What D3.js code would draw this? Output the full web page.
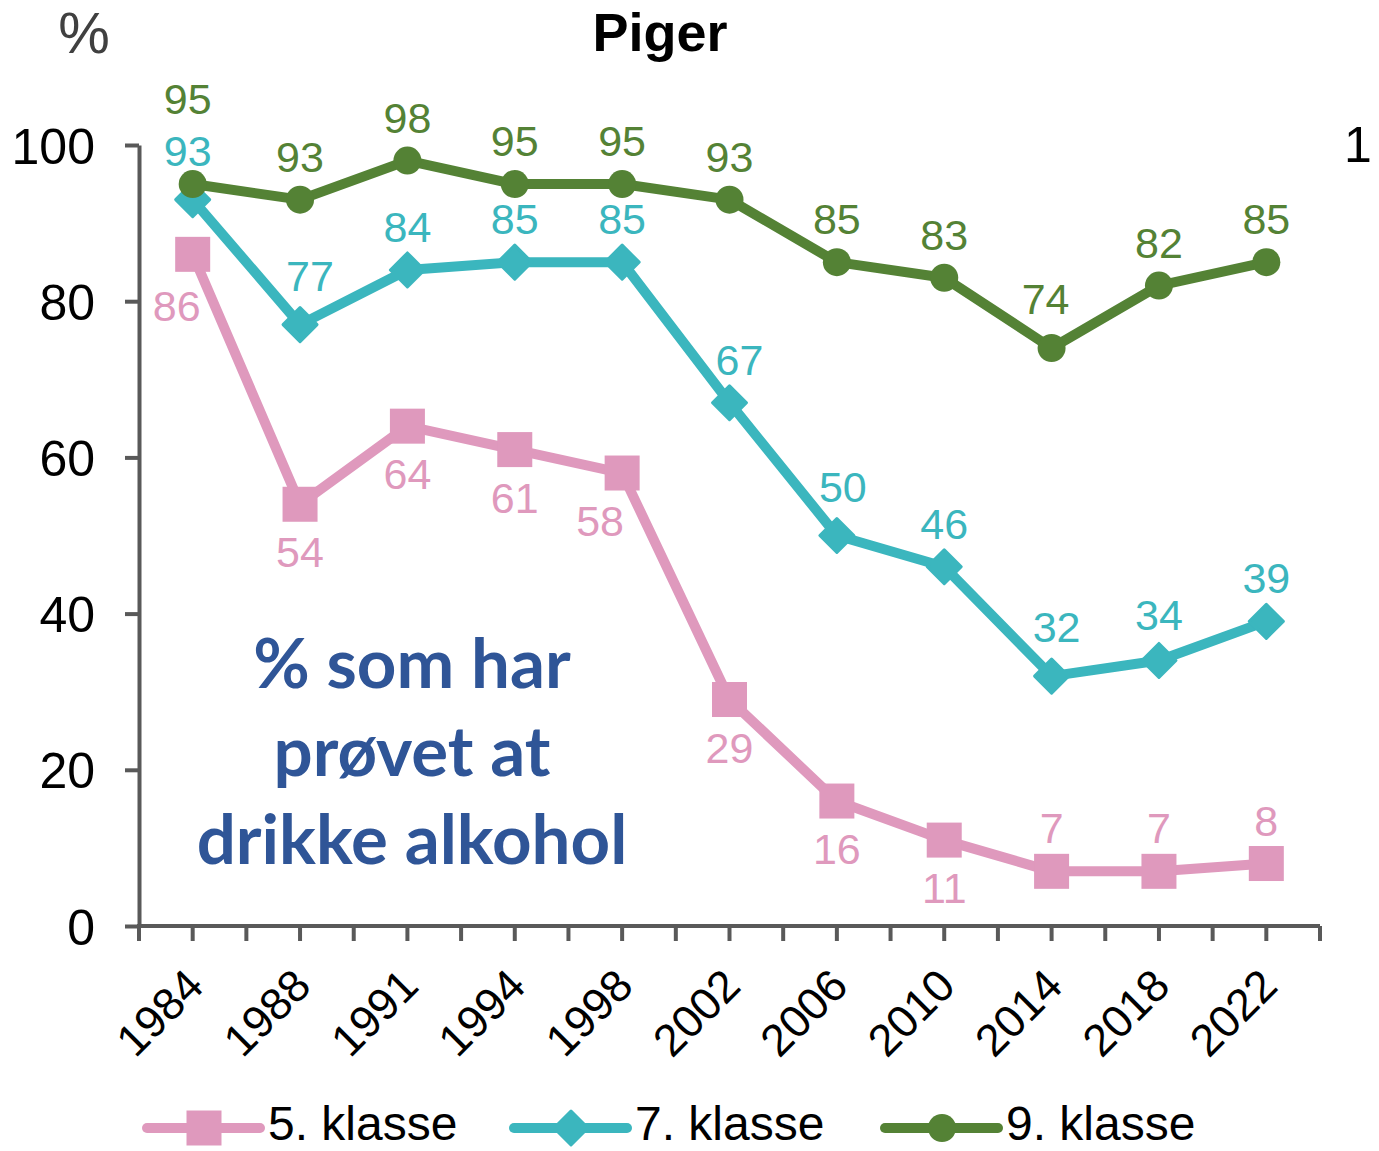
<!DOCTYPE html>
<html lang="da">
<head>
  <meta charset="UTF-8">
  <title>Piger – % som har prøvet at drikke alkohol</title>
  <style>
    body { margin: 0; background: #fff; }
    svg text { font-family: "Liberation Sans", Arial, sans-serif; }
    .axis path, .axis line { stroke: #595959; stroke-width: 4; }
    .tick text { fill: #000; }
    .lbl { font-size: 43px; }
    .note { font-family: Lato, "Open Sans", sans-serif !important; font-weight: bold; fill: #2F5597; font-size: 69px; }
  </style>
</head>
<body>
  <svg id="chart" width="1379" height="1151"></svg>

  <script src="https://d3js.org/d3.v7.min.js"></script>
  <script>
    // years (categories)
    const YEARS = ["1984","1988","1991","1994","1998","2002","2006","2010","2014","2018","2022"];
    // series values, %
    const KL5 = [86, 54, 64, 61, 58, 29, 16, 11, 7, 7, 8];
    const KL7 = [93, 77, 84, 85, 85, 67, 50, 46, 32, 34, 39];
    const KL9 = [95, 93, 98, 95, 95, 93, 85, 83, 74, 82, 85];
    const Y_TICKS = [0, 20, 40, 60, 80, 100];
    const SERIES = [
      {name:"5. klasse", vals:KL5, color:"#DF99BD", mark:"square",  pos:["b","b","b","b","b","b","b","b","a","a","a"]},
      {name:"7. klasse", vals:KL7, color:"#3BB6BE", mark:"diamond", pos:"a"},
      {name:"9. klasse", vals:KL9, color:"#548235", mark:"circle",  pos:"a"}
    ];

    const svg = d3.select('#chart');
    const x0 = 139, x1 = 1320, yTop = 145, yBot = 926;

    const x = d3.scalePoint().domain(YEARS).range([x0, x1]).padding(0.5);
    const y = d3.scaleLinear().domain([0, 100]).range([yBot, yTop]);

    // header texts
    svg.append("text").attr("x", 84).attr("y", 53).attr("text-anchor","middle")
      .attr("font-size", 58).attr("fill", "#404040").text("%");
    svg.append("text").attr("x", 660).attr("y", 51).attr("text-anchor","middle")
      .attr("font-size", 54).attr("font-weight","bold").text("Piger");
    // edge of the neighbouring chart
    svg.append("text").attr("x", 1344).attr("y", 162)
      .attr("font-size", 50).text("1");

    // y axis
    const gy = svg.append("g").attr("class","axis").attr("transform",`translate(${x0},0)`)
      .call(d3.axisLeft(y).tickValues(Y_TICKS).tickSize(14).tickPadding(30).tickSizeOuter(0));
    gy.selectAll("text").attr("font-size", 50).attr("dy","0.36em");

    // x axis: ticks on every half step
    const step = x.step();
    const halfTicks = d3.range(0, YEARS.length * 2 + 1).map(i => x0 + i * step / 2);
    const gx = svg.append("g").attr("class","axis");
    gx.append("line").attr("x1", x0 - 2).attr("x2", x1).attr("y1", yBot).attr("y2", yBot);
    gx.selectAll("line.t").data(halfTicks).join("line").attr("class","t")
      .attr("x1", d => d).attr("x2", d => d).attr("y1", yBot).attr("y2", yBot + 15);
    svg.append("g").selectAll("text").data(YEARS).join("text")
      .attr("transform", d => `translate(${x(d) - 9},${yBot + 40}) rotate(-45)`)
      .attr("text-anchor","end").attr("font-size", 45).attr("dy","0.7em")
      .text(d => d);

    // annotation
    const note = svg.append("text").attr("class","note").attr("text-anchor","middle");
    ["% som har", "prøvet at", "drikke alkohol"].forEach((t, i) => {
      note.append("tspan").attr("x", 412).attr("y", 688 + i * 88).text(t);
    });

    // markers
    function marker(g, type, cx, cy, color, s) {
      if (type === "square")
        g.append("rect").attr("x", cx - s/2).attr("y", cy - s/2).attr("width", s).attr("height", s).attr("fill", color);
      else if (type === "diamond")
        g.append("path").attr("d", `M${cx},${cy - s/2}L${cx + s/2},${cy}L${cx},${cy + s/2}L${cx - s/2},${cy}Z`)
          .attr("fill", color).attr("stroke", color).attr("stroke-width", 3).attr("stroke-linejoin","round");
      else
        g.append("circle").attr("cx", cx).attr("cy", cy).attr("r", s/2).attr("fill", color);
    }
    const MSIZE = {square: 35, diamond: 34, circle: 28};

    // label offsets for a few crowded points
    const NUDGE = {"5. klasse-0":[-16,4], "5. klasse-4":[-22,0], "7. klasse-0":[-5,-6], "7. klasse-1":[10,-6],
                   "7. klasse-5":[10,0], "7. klasse-6":[6,-6], "7. klasse-8":[5,-6], "9. klasse-0":[-5,-42],
                   "9. klasse-8":[-6,-6], "7. klasse-9":[0,-2]};

    const line = d3.line().x((d, i) => x(YEARS[i])).y(d => y(d));
    SERIES.forEach(s => {
      const g = svg.append("g");
      g.append("path").attr("d", line(s.vals)).attr("fill","none")
        .attr("stroke", s.color).attr("stroke-width", 10).attr("stroke-linejoin","round");
      s.vals.forEach((v, i) => marker(g, s.mark, x(YEARS[i]), y(v), s.color, MSIZE[s.mark]));
      s.vals.forEach((v, i) => {
        const p = Array.isArray(s.pos) ? s.pos[i] : s.pos;
        const n = NUDGE[s.name + "-" + i] || [0, 0];
        g.append("text").attr("class","lbl").attr("fill", s.color).attr("text-anchor","middle")
          .attr("x", x(YEARS[i]) + n[0])
          .attr("y", y(v) + (p === "a" ? -28 : 63) + n[1])
          .text(v);
      });
    });

    // legend
    const leg = svg.append("g");
    [147, 514, 885].forEach((lx, i) => {
      const s = SERIES[i];
      leg.append("line").attr("x1", lx).attr("x2", lx + 113).attr("y1", 1128).attr("y2", 1128)
        .attr("stroke", s.color).attr("stroke-width", 10).attr("stroke-linecap","round");
      marker(leg, s.mark, lx + 57, 1128, s.color, MSIZE[s.mark]);
      leg.append("text").attr("x", lx + 121).attr("y", 1140).attr("font-size", 48).text(s.name);
    });
  </script>
</body>
</html>
